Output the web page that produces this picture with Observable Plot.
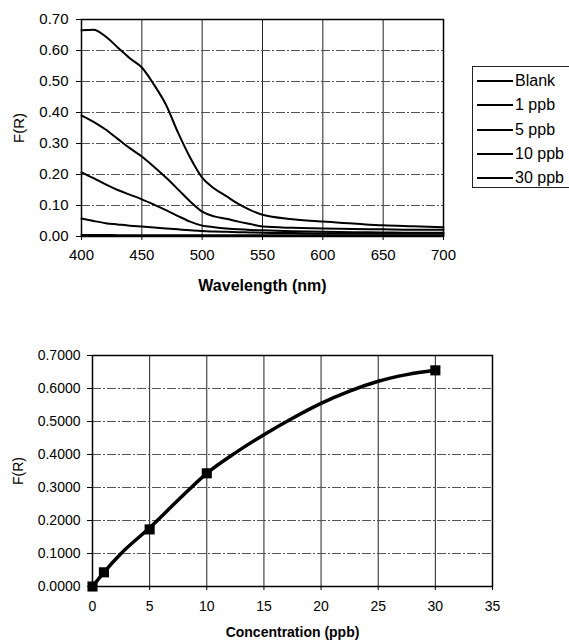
<!DOCTYPE html>
<html>
<head>
<meta charset="utf-8">
<script src="https://cdn.jsdelivr.net/npm/d3@7"></script>
<script src="https://cdn.jsdelivr.net/npm/@observablehq/plot@0.6"></script>
<style>
  body { margin: 0; background: #fff; font-family: "Liberation Sans", Arial, sans-serif; }
  #wrap { position: relative; width: 569px; height: 640px; overflow: hidden; }
  .chart { position: absolute; left: 0; }
  #legend { position: absolute; left: 472px; top: 66px; width: 100px; height: 122px;
            border: 1px solid #222; box-sizing: border-box; padding-top: 2px; }
  .item { display: flex; align-items: center; height: 24.3px; font-size: 16px; color: #000; }
  .item .ln { width: 36px; height: 2px; background: #000; margin-left: 4px; margin-right: 2px; }
</style>
</head>
<body>
<div id="wrap">
  <div id="top" class="chart" style="top:0"></div>
  <div id="legend"></div>
  <div id="bottom" class="chart" style="top:320px"></div>
</div>
<script>
// ---- Top chart data: F(R) spectra ----
const wavelengths = [400,410,420,430,440,450,460,470,480,490,500,510,520,530,540,550,575,600,625,650,675,700];
const seriesNames = ["Blank", "1 ppb", "5 ppb", "10 ppb", "30 ppb"];
const blank  = [0.005,0.005,0.005,0.004,0.004,0.004,0.004,0.004,0.004,0.004,0.004,0.004,0.004,0.004,0.004,0.004,0.004,0.004,0.004,0.004,0.004,0.004];
const ppb1   = [0.058,0.050,0.043,0.039,0.035,0.032,0.029,0.026,0.023,0.020,0.018,0.016,0.015,0.014,0.013,0.012,0.011,0.010,0.010,0.010,0.010,0.010];
const ppb5   = [0.207,0.188,0.168,0.150,0.135,0.120,0.103,0.085,0.066,0.048,0.035,0.030,0.026,0.023,0.021,0.020,0.017,0.015,0.014,0.013,0.012,0.012];
const ppb10  = [0.390,0.370,0.345,0.315,0.285,0.258,0.225,0.190,0.152,0.113,0.080,0.065,0.057,0.048,0.040,0.032,0.028,0.026,0.024,0.023,0.022,0.022];
const ppb30  = [0.665,0.667,0.645,0.610,0.575,0.545,0.490,0.425,0.335,0.255,0.190,0.155,0.130,0.105,0.085,0.070,0.056,0.048,0.042,0.036,0.033,0.030];
const wlTicks = [400,450,500,550,600,650,700];
const frTicksTop = [0,0.1,0.2,0.3,0.4,0.5,0.6,0.7];

// ---- Bottom chart data: calibration ----
const conc = [0, 1, 5, 10, 30];
const frConc = [0, 0.043, 0.173, 0.343, 0.655];
const fitConc = [0, 1, 2.5, 5, 7.5, 10, 12.5, 15, 17.5, 20, 22.5, 25, 27.5, 30];
const fitFr   = [0, 0.043, 0.10, 0.178, 0.262, 0.343, 0.405, 0.460, 0.510, 0.555, 0.592, 0.622, 0.642, 0.655];
const concTicks = [0,5,10,15,20,25,30,35];
const frTicksBottom = [0,0.1,0.2,0.3,0.4,0.5,0.6,0.7];

const allSeries = [blank, ppb1, ppb5, ppb10, ppb30];
const spectra = allSeries.flatMap((vals, i) => vals.map((v, j) => ({series: seriesNames[i], wl: wavelengths[j], fr: v})));

const FONT = "Liberation Sans, Arial, sans-serif";

const topPlot = Plot.plot({
  width: 460, height: 300,
  marginLeft: 81, marginRight: 17, marginTop: 19, marginBottom: 64,
  style: {fontFamily: FONT, fontSize: "15px", color: "#000", background: "transparent"},
  x: {domain: [400, 700]},
  y: {domain: [0, 0.7]},
  marks: [
    Plot.gridX(wlTicks.slice(1, -1), {stroke: "#222", strokeOpacity: 1, strokeWidth: 1}),
    Plot.gridY(frTicksTop.slice(1, -1), {stroke: "#555", strokeOpacity: 1, strokeWidth: 1, strokeDasharray: "9,2,2,2"}),
    Plot.line(spectra, {x: "wl", y: "fr", z: "series", stroke: "#000", strokeWidth: 2, curve: "monotone-x"}),
    Plot.frame({stroke: "#000", strokeWidth: 1.5}),
    Plot.axisX(wlTicks, {tickSize: 4, tickPadding: 9, label: null, fontSize: 15}),
    Plot.axisY(frTicksTop, {tickSize: 5, tickPadding: 8, label: null, tickFormat: d3.format(".2f"), fontSize: 15}),
    Plot.text(["Wavelength (nm)"], {frameAnchor: "bottom", dy: 49, lineAnchor: "middle", textAnchor: "middle", fontWeight: "bold", fontSize: 16}),
    Plot.text(["F(R)"], {frameAnchor: "left", dx: -62, rotate: -90, lineAnchor: "middle", textAnchor: "middle", fontSize: 15})
  ]
});
document.getElementById("top").appendChild(topPlot);

const legend = document.getElementById("legend");
seriesNames.forEach(name => {
  const d = document.createElement("div");
  d.className = "item";
  d.innerHTML = '<span class="ln"></span><span></span>';
  d.lastChild.textContent = name;
  legend.appendChild(d);
});

const calib = conc.map((c, i) => ({c, fr: frConc[i]}));
const fit = fitConc.map((c, i) => ({c, fr: fitFr[i]}));

const bottomPlot = Plot.plot({
  width: 569, height: 320,
  marginLeft: 92, marginRight: 77, marginTop: 35, marginBottom: 54,
  style: {fontFamily: FONT, fontSize: "14px", color: "#000", background: "transparent"},
  x: {domain: [0, 35]},
  y: {domain: [0, 0.7]},
  marks: [
    Plot.gridX(concTicks.slice(1, -1), {stroke: "#222", strokeOpacity: 1, strokeWidth: 1}),
    Plot.gridY(frTicksBottom.slice(1, -1), {stroke: "#555", strokeOpacity: 1, strokeWidth: 1, strokeDasharray: "9,2,2,2"}),
    Plot.line(fit, {x: "c", y: "fr", stroke: "#000", strokeWidth: 3.5, curve: "monotone-x"}),
    Plot.dot(calib, {x: "c", y: "fr", symbol: "square", r: 5.7, fill: "#000", stroke: "none"}),
    Plot.frame({stroke: "#000", strokeWidth: 1.5}),
    Plot.axisX(concTicks, {tickSize: 4, tickPadding: 11, label: null, fontSize: 14}),
    Plot.axisY(frTicksBottom, {tickSize: 5, tickPadding: 7, label: null, tickFormat: d3.format(".4f"), fontSize: 14}),
    Plot.text(["Concentration (ppb)"], {frameAnchor: "bottom", dy: 46, lineAnchor: "middle", textAnchor: "middle", fontWeight: "bold", fontSize: 14}),
    Plot.text(["F(R)"], {frameAnchor: "left", dx: -74, rotate: -90, lineAnchor: "middle", textAnchor: "middle", fontSize: 14})
  ]
});
document.getElementById("bottom").appendChild(bottomPlot);
</script>
</body>
</html>
